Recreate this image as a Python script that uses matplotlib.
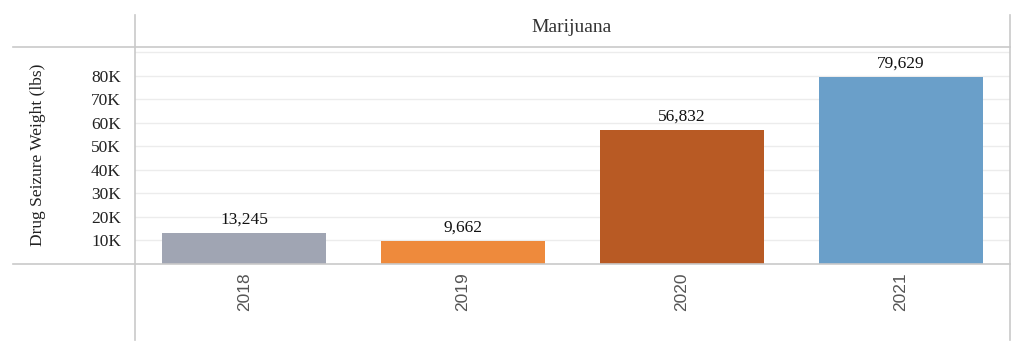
import matplotlib
matplotlib.use("Agg")
import matplotlib.pyplot as plt
from matplotlib.lines import Line2D

# ---- data ------------------------------------------------------------------
years = ["2018", "2019", "2020", "2021"]
weights = [13245, 9662, 56832, 79629]
bar_colors = ["#a0a5b3", "#ee8a3c", "#b85a24", "#6a9fc9"]
yticks = [10000, 20000, 30000, 40000, 50000, 60000, 70000, 80000]
ytick_labels = ["10K", "20K", "30K", "40K", "50K", "60K", "70K", "80K"]

W, H = 1024, 364
SERIF = "Liberation Serif"
SANS = "Liberation Sans"
LINE = "#c9c9c9"
GRID = "#ececec"


def px(x, y):
    # pixel (from top-left) -> figure fraction
    return x / W, 1 - y / H


fig = plt.figure(figsize=(W / 100, H / 100), dpi=100)
left, top = px(135, 47)
right, bottom = px(1010, 264)
ax = fig.add_axes([left, bottom, right - left, top - bottom])

x = range(len(years))
bars = ax.bar(x, weights, width=0.75, color=bar_colors, zorder=2)
ax.set_xlim(-0.5, len(years) - 0.5)
ax.set_ylim(0, 92300)

for b, v in zip(bars, weights):
    ax.annotate(f"{v:,}", (b.get_x() + b.get_width() / 2, v),
                xytext=(0, 4), textcoords="offset points",
                ha="center", va="bottom", fontsize=12.5, family=SERIF,
                color="#111111")

ax.set_yticks(yticks)
ax.set_yticklabels(ytick_labels, family=SERIF, fontsize=12.5, color="#222222")
for t in yticks + [90000]:
    ax.axhline(t, color=GRID, lw=1, zorder=1)
ax.tick_params(axis="y", length=0, pad=10)

ax.set_xticks(list(x))
ax.set_xticklabels(years, rotation=90, family=SANS, fontsize=12.5,
                   color="#555555")
ax.tick_params(axis="x", length=0, pad=6)

for s in ax.spines.values():
    s.set_visible(False)

# ---- frame lines (table-style header and panel borders) ----
for (x0, y0, x1, y1) in [(135, 15, 135, 340), (1010, 15, 1010, 340),
                         (13, 47, 1010, 47), (13, 264, 1010, 264)]:
    a, b = px(x0, y0)
    c, d = px(x1, y1)
    fig.add_artist(Line2D([a, c], [b, d], color=LINE, lw=1.2))

hx, hy = px(572, 28)
fig.text(hx, hy, "Marijuana", ha="center", va="center", family=SERIF,
         fontsize=14, color="#333333")

lx, ly = px(38, 155)
fig.text(lx, ly, "Drug Seizure Weight (lbs)", rotation=90, ha="center",
         va="center", family=SERIF, fontsize=12.5, color="#222222")

fig.savefig("out.png", dpi=100)
